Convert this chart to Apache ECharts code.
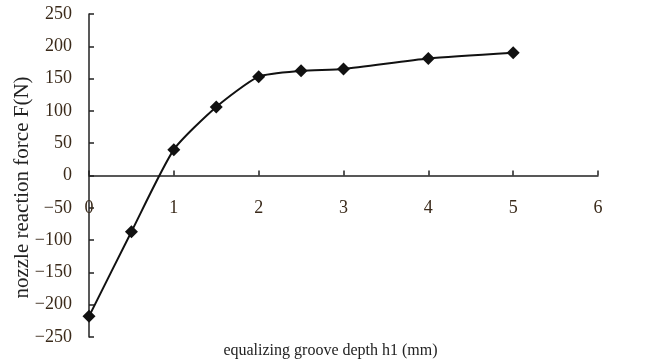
<!DOCTYPE html>
<html><head><meta charset="utf-8">
<script src="https://cdn.jsdelivr.net/npm/echarts@6/dist/echarts.min.js"></script>
<style>html,body{margin:0;padding:0;background:#fff}#c{width:650px;height:362px}</style>
</head><body><div id="c"></div>
<script>
const depths = [0, 0.5, 1, 1.5, 2, 2.5, 3, 4, 5];
const forces = [-218, -87, 40, 106, 153, 162, 165, 181, 190];
const xTicks = [0, 1, 2, 3, 4, 5, 6];
const yTicks = [-250, -200, -150, -100, -50, 0, 50, 100, 150, 200, 250];
const xName = 'equalizing groove depth h1 (mm)';
const yName = 'nozzle reaction force F(N)';

const font = '"Liberation Serif", "DejaVu Serif", serif';
const ink = '#222';
const labelInk = '#3a2a1a';
const chart = echarts.init(document.getElementById('c'), null, {renderer: 'canvas'});

function buildOption(xOffset) {
  return {
    animation: false,
    backgroundColor: '#fff',
    grid: {left: 89, right: 52, top: 14, bottom: 25, containLabel: false, outerBoundsMode: 'none'},
    xAxis: [{
      type: 'value', min: xTicks[0], max: xTicks[xTicks.length - 1], interval: 1,
      position: 'bottom', offset: xOffset,
      axisLine: {show: true, onZero: false, lineStyle: {color: ink, width: 1.5}},
      axisTick: {show: true, inside: true, length: 5, lineStyle: {color: ink, width: 1.5}},
      axisLabel: {fontFamily: font, fontSize: 18, color: labelInk, margin: 24},
      splitLine: {show: false}
    }, {
      type: 'value', min: xTicks[0], max: xTicks[xTicks.length - 1], interval: 1,
      position: 'bottom', offset: 0,
      name: xName, nameLocation: 'middle', nameGap: 6, nameMoveOverlap: false,
      nameTextStyle: {fontFamily: font, fontSize: 16, color: ink, padding: [0, 26, 0, 0]},
      axisLine: {show: false, onZero: false}, axisTick: {show: false},
      axisLabel: {show: false}, splitLine: {show: false}
    }],
    yAxis: {
      type: 'value', min: yTicks[0], max: yTicks[yTicks.length - 1], interval: 50,
      name: yName, nameLocation: 'middle', nameGap: 56, nameRotate: 90, nameMoveOverlap: false,
      nameTextStyle: {fontFamily: font, fontSize: 21, color: ink, padding: [0, 24, 0, 0]},
      axisLine: {show: true, onZero: false, lineStyle: {color: ink, width: 1.5}},
      axisTick: {show: true, inside: true, length: 5, lineStyle: {color: ink, width: 1.5}},
      axisLabel: {fontFamily: font, fontSize: 18, color: labelInk, margin: 17,
        formatter: v => String(v).replace('-', '\u2212')},
      splitLine: {show: false}
    },
    series: [{
      type: 'line',
      xAxisIndex: 0,
      data: depths.map((d, i) => [d, forces[i]]),
      smooth: 0.2,
      symbol: 'diamond', symbolSize: 13,
      itemStyle: {color: '#111'},
      lineStyle: {color: '#111', width: 2}
    }]
  };
}
chart.setOption(buildOption(0));
// move the x axis (line, ticks, labels) up to y = 0 using the library's own scale
const zeroY = chart.convertToPixel({yAxisIndex: 0}, 0);
const bottomY = chart.convertToPixel({yAxisIndex: 0}, yTicks[0]);
chart.setOption(buildOption(-(bottomY - zeroY)));
</script></body></html>
